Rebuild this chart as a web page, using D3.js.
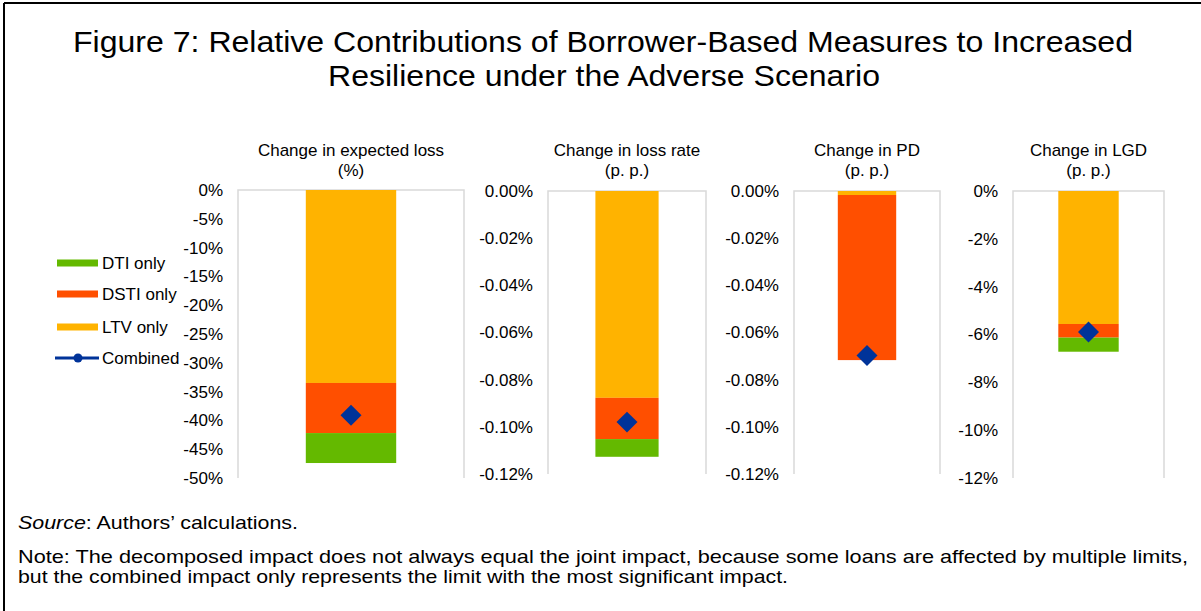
<!DOCTYPE html>
<html>
<head>
  <meta charset="utf-8">
  <script src="https://d3js.org/d3.v7.min.js"></script>
  <style>
    body { margin: 0; background: #fff; }
    text { font-family: "Liberation Sans", Arial, sans-serif; fill: #000; }
  </style>
</head>
<body>
<script type="text/javascript">
// chart data (units: per cent)
var panelTitles = [["Change in expected loss", "(%)"],
                   ["Change in loss rate", "(p. p.)"],
                   ["Change in PD", "(p. p.)"],
                   ["Change in LGD", "(p. p.)"]];
var ltvOnly  = [-33.5, -0.0877, -0.0017, -5.56];
var dstiOnly = [-8.7, -0.0175, -0.0700, -0.57];
var dtiOnly  = [-5.2, -0.0075, 0, -0.59];
var combined = [-39.1, -0.0980, -0.0698, -5.9];
var axisMin   = [-50, -0.12, -0.12, -12];
var tickStep  = [5, 0.02, 0.02, 2];
var tickDigits = [0, 2, 2, 0];
var seriesNames = ["DTI only", "DSTI only", "LTV only", "Combined"];

var colors = { ltv: "#ffb300", dsti: "#ff4f00", dti: "#64b900", comb: "#003399" };

var W = 1201, H = 611;
var svg = d3.select("body").append("svg").attr("width", W).attr("height", H);

// frame
svg.append("line").attr("x1", 4).attr("x2", W).attr("y1", 3).attr("y2", 3)
   .attr("stroke", "#000").attr("stroke-width", 2);
svg.append("line").attr("x1", 4).attr("x2", 4).attr("y1", 3).attr("y2", H)
   .attr("stroke", "#000").attr("stroke-width", 2);

// title
svg.append("text").attr("x", 603).attr("y", 52).attr("text-anchor", "middle")
   .attr("textLength", 1060).attr("lengthAdjust", "spacingAndGlyphs")
   .style("font-size", "30px").text("Figure 7: Relative Contributions of Borrower-Based Measures to Increased");
svg.append("text").attr("x", 604).attr("y", 86).attr("text-anchor", "middle")
   .attr("textLength", 552).attr("lengthAdjust", "spacingAndGlyphs")
   .style("font-size", "30px").text("Resilience under the Adverse Scenario");

// panel placement
var plotLeft  = [238, 548, 794, 1013];
var plotRight = [464, 706, 940, 1164];
var plotTop   = [190, 191, 191, 191];
var plotBot   = [478, 474, 474, 478];

panelTitles.forEach(function (t, i) {
  var g = svg.append("g");
  var y = d3.scaleLinear().domain([axisMin[i], 0]).range([plotBot[i], plotTop[i]]);
  var x = d3.scaleBand().domain(["v"]).range([plotLeft[i], plotRight[i]])
            .paddingInner(0.6).paddingOuter(0.3);

  // plot frame: zero line + sides
  g.append("path")
   .attr("d", "M" + plotLeft[i] + "," + plotBot[i] + "V" + plotTop[i] + "H" + plotRight[i] + "V" + plotBot[i])
   .attr("fill", "none").attr("stroke", "#d9d9d9").attr("stroke-width", 1.5);

  // axis labels
  var ticks = d3.range(0, Math.round(-axisMin[i] / tickStep[i]) + 1).map(function (k) { return -k * tickStep[i]; });
  var axis = d3.axisLeft(y).tickValues(ticks).tickSize(0).tickPadding(15)
    .tickFormat(function (d) { return (d === 0 ? 0 : d).toFixed(tickDigits[i]) + "%"; });
  var ax = g.append("g").attr("transform", "translate(" + plotLeft[i] + ",0)").call(axis);
  ax.select(".domain").remove();
  ax.selectAll("text").style("font-size", "17px").style("font-family", "Liberation Sans, Arial, sans-serif").attr("fill", "#000");

  // stacked bar: LTV from 0, then DSTI, then DTI
  var segs = [
    { v0: 0, v1: ltvOnly[i], c: colors.ltv },
    { v0: ltvOnly[i], v1: ltvOnly[i] + dstiOnly[i], c: colors.dsti },
    { v0: ltvOnly[i] + dstiOnly[i], v1: ltvOnly[i] + dstiOnly[i] + dtiOnly[i], c: colors.dti }
  ];
  g.selectAll("rect.seg").data(segs).enter().append("rect")
   .attr("x", x("v")).attr("width", x.bandwidth())
   .attr("y", function (d) { return y(d.v0); })
   .attr("height", function (d) { return y(d.v1) - y(d.v0); })
   .attr("fill", function (d) { return d.c; });

  // combined marker
  g.append("path")
   .attr("d", d3.symbol(d3.symbolSquare, 220)())
   .attr("transform", "translate(" + (x("v") + x.bandwidth() / 2) + "," + y(combined[i]) + ") rotate(45)")
   .attr("fill", colors.comb);

  // panel title
  var cx = (plotLeft[i] + plotRight[i]) / 2;
  g.append("text").attr("x", cx).attr("y", 156).attr("text-anchor", "middle").style("font-size", "17px").text(t[0]);
  g.append("text").attr("x", cx).attr("y", 176).attr("text-anchor", "middle").style("font-size", "17px").text(t[1]);
});

// legend
var legY = [263, 294, 327, 358];
var legColors = [colors.dti, colors.dsti, colors.ltv];
var leg = svg.append("g");
legColors.forEach(function (c, k) {
  leg.append("rect").attr("x", 57).attr("y", legY[k] - 3.5).attr("width", 41).attr("height", 7).attr("fill", c);
});
leg.append("line").attr("x1", 55).attr("x2", 99).attr("y1", legY[3]).attr("y2", legY[3])
   .attr("stroke", colors.comb).attr("stroke-width", 3);
leg.append("circle").attr("cx", 78).attr("cy", legY[3]).attr("r", 4.5).attr("fill", colors.comb);
seriesNames.forEach(function (n, k) {
  leg.append("text").attr("x", 102).attr("y", legY[k] + 6).style("font-size", "17px").text(n);
});

// footer
var foot = svg.append("text").attr("x", 18).attr("y", 529).style("font-size", "19px")
   .attr("textLength", 280).attr("lengthAdjust", "spacingAndGlyphs");
foot.append("tspan").style("font-style", "italic").text("Source");
foot.append("tspan").text(": Authors\u2019 calculations.");
svg.append("text").attr("x", 18).attr("y", 563).style("font-size", "19px")
   .attr("textLength", 1170).attr("lengthAdjust", "spacingAndGlyphs")
   .text("Note: The decomposed impact does not always equal the joint impact, because some loans are affected by multiple limits,");
svg.append("text").attr("x", 18).attr("y", 583).style("font-size", "19px")
   .attr("textLength", 770).attr("lengthAdjust", "spacingAndGlyphs")
   .text("but the combined impact only represents the limit with the most significant impact.");
</script>
</body>
</html>
